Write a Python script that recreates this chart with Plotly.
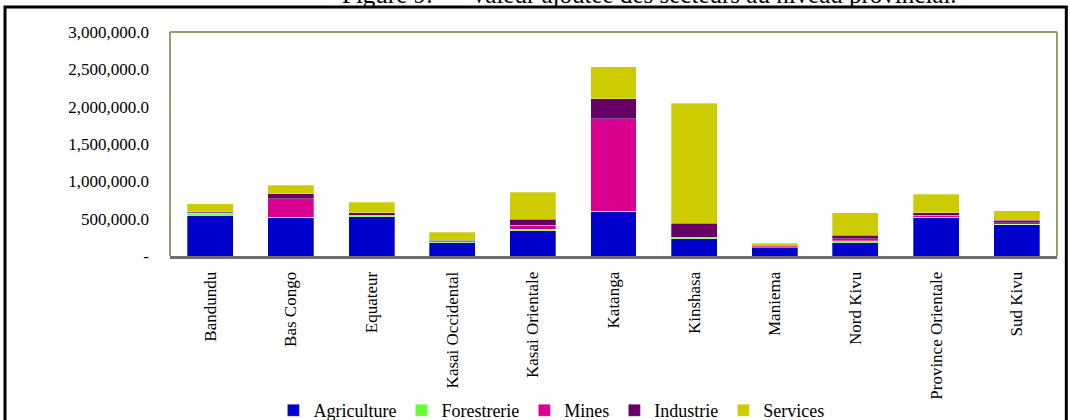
import plotly.graph_objects as go

provinces = ["Bandundu", "Bas Congo", "Equateur", "Kasai Occidental", "Kasai Orientale",
             "Katanga", "Kinshasa", "Maniema", "Nord Kivu", "Province Orientale", "Sud Kivu"]

agriculture = [540000, 513000, 527000, 178000, 335000, 594000, 232000, 116000, 178000, 513000, 420000]
forestrerie = [30000, 5000, 10000, 12000, 25000, 3000, 15000, 8000, 27000, 8000, 5000]
mines = [8000, 250000, 10000, 12000, 55000, 1241000, 3000, 10000, 23000, 25000, 21000]
industrie = [12000, 67000, 29000, 12000, 80000, 265000, 187000, 9000, 49000, 30000, 36000]
services = [110000, 110000, 147000, 106000, 362000, 435000, 1608000, 31000, 299000, 250000, 121000]

tick_values = [0, 500000, 1000000, 1500000, 2000000, 2500000, 3000000]
tick_labels = ["-", "500,000.0", "1,000,000.0", "1,500,000.0", "2,000,000.0", "2,500,000.0", "3,000,000.0"]

series = [
    ("Agriculture", agriculture, "#0000CC"),
    ("Forestrerie", forestrerie, "#66FF33"),
    ("Mines", mines, "#D9008F"),
    ("Industrie", industrie, "#660066"),
    ("Services", services, "#CCCC00"),
]

fig = go.Figure()
for name, vals, color in series:
    fig.add_trace(go.Bar(
        x=provinces, y=vals, name=name,
        marker=dict(color=color, line=dict(color="rgba(255,255,255,0.5)", width=0.6)),
    ))

serif = "Liberation Serif"

fig.update_layout(
    barmode="stack",
    bargap=0.43,
    width=1070, height=420,
    margin=dict(l=170, r=13, t=32, b=164, autoexpand=False),
    paper_bgcolor="white",
    plot_bgcolor="white",
    font=dict(family=serif, color="#000000", size=14),
    showlegend=True,
    legend=dict(
        orientation="h", x=0.43, xanchor="center", y=-0.69, yanchor="middle",
        font=dict(family=serif, size=18), itemwidth=30, traceorder="normal",
        tracegroupgap=0,
    ),
    xaxis=dict(
        tickangle=-90, showgrid=False, ticks="", showline=True, automargin=False,
        linecolor="#6E6E6E", linewidth=3, tickfont=dict(family=serif, size=17),
        ticklabelstandoff=6,
    ),
    yaxis=dict(
        range=[0, 3000000], tickvals=tick_values, ticktext=tick_labels, automargin=False,
        showgrid=False, zeroline=False, ticks="", showline=False,
        tickfont=dict(family=serif, size=17), ticklabelstandoff=20,
    ),
)

# Plot-area border (olive) on left, top, right
for x0, x1, y0, y1 in [(0, 0, 0, 1), (0, 1, 1, 1), (1, 1, 0, 1)]:
    fig.add_shape(type="line", xref="paper", yref="paper", x0=x0, x1=x1, y0=y0, y1=y1,
                  line=dict(color="#A39A6A", width=2))

# Outer black frame
fig.add_shape(type="rect", xref="paper", yref="paper", x0=-0.186, x1=1.0105, y0=-1.0, y1=1.112,
              line=dict(color="black", width=3), fillcolor="rgba(0,0,0,0)", layer="below")

# Clipped title at top
fig.add_annotation(text="Figure 9:      Valeur ajoutée des secteurs au niveau provincial.",
                   xref="paper", yref="paper", x=0.541, y=1.097, xanchor="center", yanchor="bottom",
                   showarrow=False, font=dict(family=serif, size=25, color="black"))

fig.write_html("out.html", config={"displayModeBar": False},
               post_script="document.body.style.margin='0';")
